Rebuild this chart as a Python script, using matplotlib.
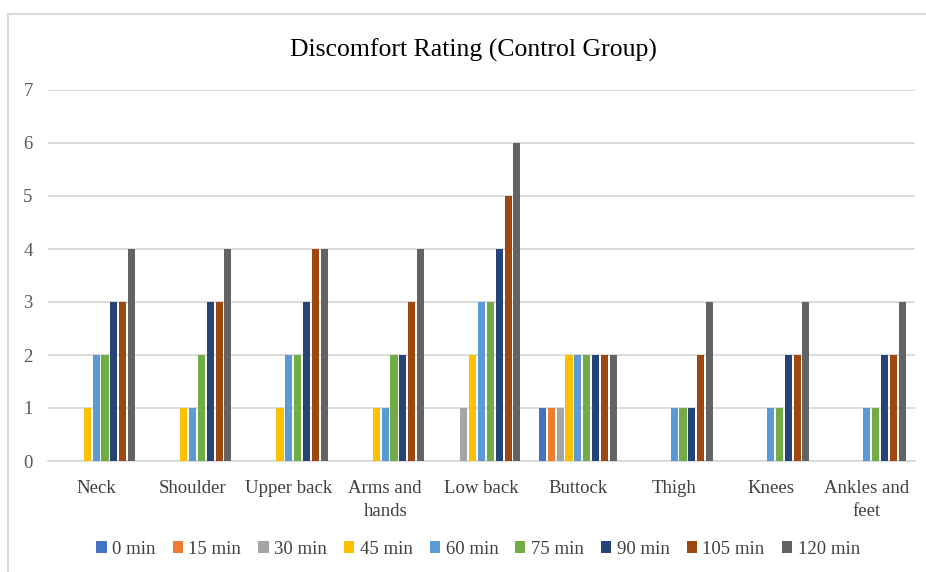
import numpy as np
import matplotlib.pyplot as plt
from matplotlib.patches import Rectangle

# body regions and time points
regions = ["Neck", "Shoulder", "Upper back", "Arms and\nhands", "Low back",
           "Buttock", "Thigh", "Knees", "Ankles and\nfeet"]
times = ["0 min", "15 min", "30 min", "45 min", "60 min",
         "75 min", "90 min", "105 min", "120 min"]

# ratings per time point, one value per region
r0 = [0, 0, 0, 0, 0, 1, 0, 0, 0]
r15 = [0, 0, 0, 0, 0, 1, 0, 0, 0]
r30 = [0, 0, 0, 0, 1, 1, 0, 0, 0]
r45 = [1, 1, 1, 1, 2, 2, 0, 0, 0]
r60 = [2, 1, 2, 1, 3, 2, 1, 1, 1]
r75 = [2, 2, 2, 2, 3, 2, 1, 1, 1]
r90 = [3, 3, 3, 2, 4, 2, 1, 2, 2]
r105 = [3, 3, 4, 3, 5, 2, 2, 2, 2]
r120 = [4, 4, 4, 4, 6, 2, 3, 3, 3]
ratings = [r0, r15, r30, r45, r60, r75, r90, r105, r120]

colors = ["#4472C4", "#ED7D31", "#A5A5A5", "#FFC000", "#5B9BD5",
          "#70AD47", "#264478", "#9E480E", "#636363"]

plt.rcParams["font.family"] = ["Liberation Serif", "DejaVu Serif"]

fig = plt.figure(figsize=(9.26, 5.72), dpi=100)
ax = fig.add_axes([48 / 926, 1 - 461 / 572, (915 - 48) / 926, (461 - 90) / 572])

# chart frame
fig.patches.append(Rectangle((8 / 926, -0.05), 1.1, 1 - 14 / 572 + 0.05,
                             transform=fig.transFigure, fill=False,
                             edgecolor="#D9D9D9", linewidth=1.5))

x = np.arange(len(regions))
slot = 0.092
for i, (vals, c) in enumerate(zip(ratings, colors)):
    ax.bar(x + (i - 4) * slot, vals, width=slot * 0.8, color=c,
           label=times[i], zorder=3)

ax.set_xlim(-0.5, len(regions) - 0.5)
ax.set_ylim(0, 7)
ax.set_yticks(range(8))
ax.set_xticks(x)
ax.set_xticklabels(regions, fontsize=13.5, color="#404040", linespacing=1.4)
ax.tick_params(axis="y", labelsize=13.5, labelcolor="#595959", length=0, pad=11)
ax.tick_params(axis="x", length=0, pad=14)
ax.grid(axis="y", color="#D9D9D9", linewidth=1.3, zorder=0)
for s in ["top", "right", "left"]:
    ax.spines[s].set_visible(False)
ax.spines["bottom"].set_color("#D9D9D9")
ax.spines["bottom"].set_linewidth(1.3)

fig.text(473 / 926, 1 - 50 / 572, "Discomfort Rating (Control Group)",
         ha="center", va="center", fontsize=18.5, color="#000000")

fig.legend(loc="center", bbox_to_anchor=(478 / 926, 1 - 549 / 572),
           ncol=9, frameon=False, fontsize=13.5, handlelength=0.55,
           handleheight=0.55, handletextpad=0.3, columnspacing=0.9,
           labelcolor="#404040")

fig.savefig("out.png", dpi=100)
